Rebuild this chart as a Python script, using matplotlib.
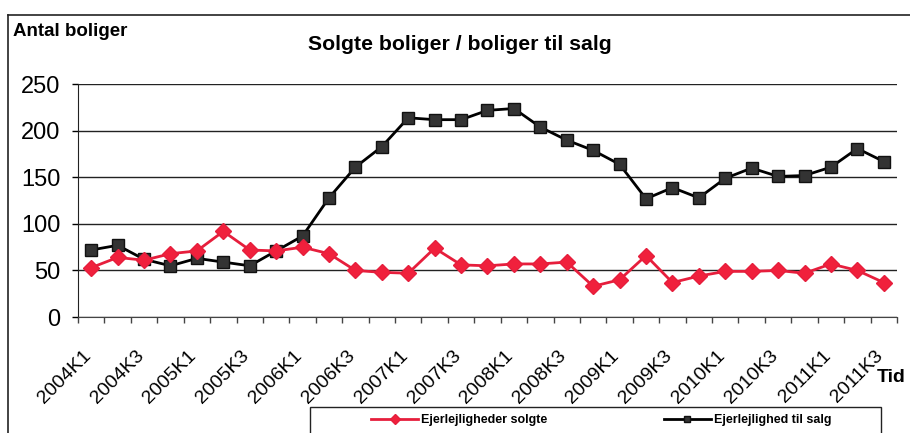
import matplotlib
matplotlib.use('Agg')
import matplotlib.pyplot as plt
import matplotlib.transforms as mtransforms
from matplotlib.lines import Line2D
from matplotlib.patches import Rectangle

plt.rcParams['font.family'] = ['Liberation Sans', 'DejaVu Sans']

# kvartaler 2004K1 - 2011K3
kvartaler = [f'{aar}K{k}' for aar in range(2004, 2012) for k in range(1, 5)][:31]

solgte = [53, 64, 61, 68, 71, 92, 72, 71, 75, 68, 50, 48, 47, 74, 56,
          55, 57, 57, 59, 33, 40, 66, 37, 44, 49, 49, 50, 47, 57, 50, 37]
til_salg = [72, 77, 62, 55, 63, 59, 55, 71, 87, 128, 161, 183, 214, 212, 212,
            222, 224, 204, 190, 179, 164, 127, 139, 128, 149, 160, 151, 152, 161, 181, 167]

W, H = 910, 433
fig = plt.figure(figsize=(W / 100, H / 100), dpi=100)
ax = fig.add_axes([78 / W, 1 - 317 / H, (897 - 78) / W, (317 - 84.3) / H])

x = list(range(len(kvartaler)))
ax.plot(x, solgte, color='#e61e3c', lw=2, marker='D', ms=8,
        markerfacecolor='#f0203c', markeredgecolor='#e61e3c', label='Ejerlejligheder solgte', zorder=4)
ax.plot(x, til_salg, color='black', lw=2, marker='s', ms=8,
        markerfacecolor='#333333', markeredgecolor='#111111', label='Ejerlejlighed til salg', zorder=3)

ax.set_xlim(-0.5, len(kvartaler) - 0.5)
ax.set_ylim(0, 250)
ax.set_yticks(range(0, 251, 50))
ax.yaxis.grid(True, color='#222222', lw=1)
ax.set_axisbelow(True)
for s in ['top', 'right']:
    ax.spines[s].set_visible(False)
ax.spines['left'].set_color('#222222')
ax.spines['bottom'].set_color('#444444')
ax.tick_params(axis='y', length=4.5, width=1, pad=8, labelsize=17)

ax.set_xticks([i - 0.5 for i in range(len(kvartaler) + 1)], minor=True)
ax.set_xticks(x[::2])
ax.set_xticklabels(kvartaler[::2], rotation=45, ha='right', va='top',
                   rotation_mode='anchor', fontsize=14)
ax.tick_params(axis='x', which='major', length=0, pad=22)
ax.tick_params(axis='x', which='minor', length=4, width=1, color='#444444')
skift = mtransforms.ScaledTranslation(-9 / 100, 0, fig.dpi_scale_trans)
for lbl in ax.get_xticklabels():
    lbl.set_transform(lbl.get_transform() + skift)

fig.text(460 / W, 1 - 44 / H, 'Solgte boliger / boliger til salg', ha='center', va='center',
         fontsize=15.3, fontweight='bold')
fig.text(13 / W, 1 - 32 / H, 'Antal boliger', ha='left', va='center',
         fontsize=13.5, fontweight='bold')
fig.text(877 / W, 1 - 377 / H, 'Tid', ha='left', va='center',
         fontsize=14, fontweight='bold')

# ramme rundt om figuren
fig.add_artist(Line2D([8 / W, 8 / W], [0, 1 - 15 / H], color='#222222', lw=1.2))
fig.add_artist(Line2D([8 / W, 1], [1 - 15 / H, 1 - 15 / H], color='#222222', lw=1.2))

# legende
fig.add_artist(Rectangle((310 / W, -0.05), (881 - 310) / W, 0.05 + 1 - 407 / H,
                         transform=fig.transFigure, fill=False, edgecolor='#222222', lw=1))
fig.legend(loc='center left', bbox_to_anchor=(371 / W, 1 - 420 / H), ncol=2, frameon=False,
           borderpad=0, borderaxespad=0, handlelength=3.76, handletextpad=0.24,
           columnspacing=9.3, markerscale=0.6, prop={'size': 9, 'weight': 'bold'})

fig.savefig('out.png', dpi=100)
